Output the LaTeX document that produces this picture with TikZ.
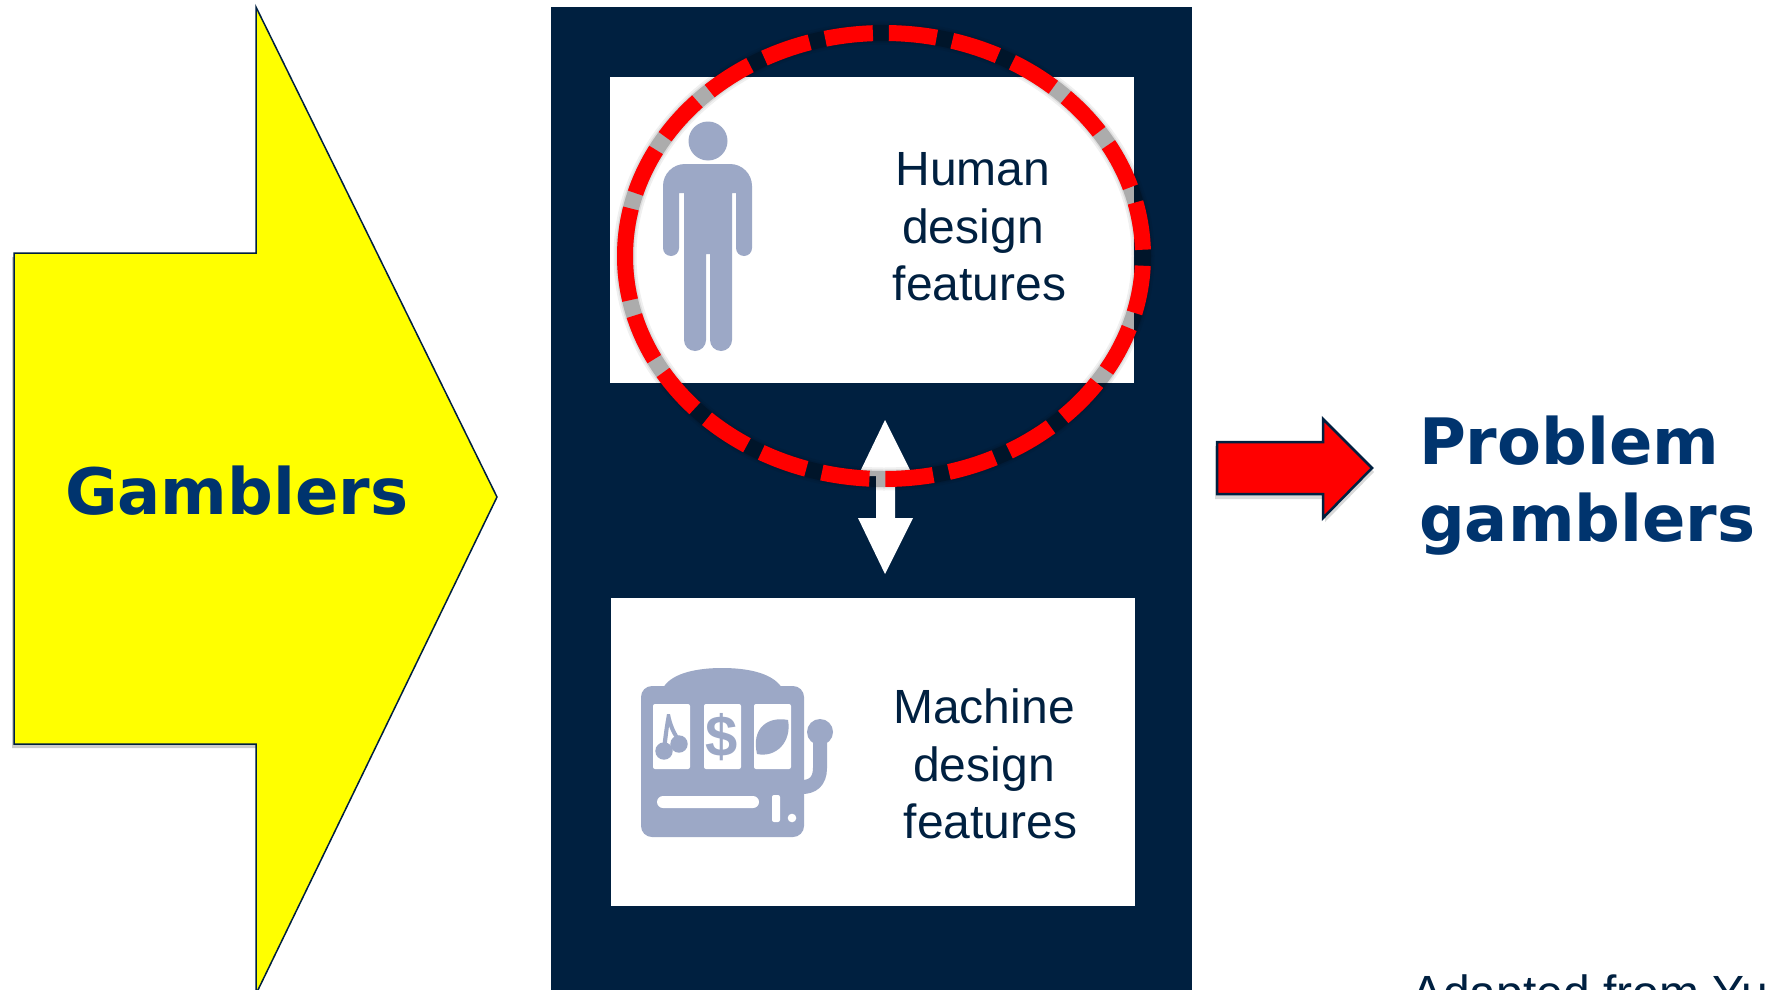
\documentclass[tikz,border=0pt]{standalone}
\usepackage{fontspec}
\setmainfont{Liberation Sans}
\newfontfamily\widefont{DejaVu Sans}
\definecolor{panel}{HTML}{002040}
\definecolor{titleblue}{HTML}{00346E}
\definecolor{icon}{HTML}{9CA8C6}
\definecolor{arrowyellow}{HTML}{FFFF00}
\definecolor{ringred}{HTML}{FF0000}
\usepackage{tikz}
\tikzstyle{base}=[x=1pt, y=-1pt, inner sep=0pt, outer sep=0pt]
\tikzstyle{whitebox}=[fill=white, draw=panel, line width=0.5pt]
\tikzstyle{body}=[panel, align=center, font=\fontsize{48}{57.5}\selectfont]
\tikzstyle{title}=[titleblue, align=left, font=\widefont\bfseries\fontsize{64}{77}\selectfont]
\newcommand*{\ringpath}{(625,256) arc (180:540:259 and 223)}

\begin{document}
\begin{tikzpicture}[base]
    \path [use as bounding box] (0,0) rectangle (1767,990);
    \fill [white] (0,0) rectangle (1767,990);
        % left arrow
        \fill [black, opacity=0.2] (12,257) -- (256,257) -- (256,744) -- (258,748) -- (12,748) -- cycle;
        \draw [panel, line width=1.5pt, fill=arrowyellow] (14,253) -- (256,253) -- (256,7) -- (497,497) -- (256,994) -- (256,744) -- (14,744) -- cycle;
        \node [title, anchor=base west] (gamblers) at (65,514) {Gamblers};
        % middle panel
        \fill [panel] (551,7) rectangle (1192,990);
        \draw [whitebox] (609,76) rectangle (1134,383);
        \draw [whitebox] (610,597) rectangle (1135,906);
        \node [body] (human) at (973,227) {Human\\design\\\hspace*{13pt}features};
        \node [body] (machine) at (984,764) {Machine\\design\\\hspace*{13pt}features};
        % person
        \fill [icon] (708,141) circle (19.5);
        \fill [icon] (663,220) [rounded corners=22] -- (663,164) -- (752,164) [rounded corners=8] -- (752,256) -- (736,256) [sharp corners] -- (736,193) -- (732,193) [rounded corners=11] -- (732,351) -- (710,351) [sharp corners] -- (710,254) -- (706,254) [rounded corners=11] -- (706,351) -- (684,351) [sharp corners] -- (684,193) -- (679,193) [rounded corners=8] -- (679,256) -- (663,256) [sharp corners] -- cycle;
        % slot machine
        \fill [icon] (663,688) .. controls (672,672) and (700,668) .. (722,668) .. controls (745,668) and (772,672) .. (782,688) -- cycle;
        \fill [icon, rounded corners=11] (641,686) rectangle (804,837);
        \fill [icon] (820,732) circle (13);
        \draw [icon, line width=14pt] (820,732) -- (820,768) .. controls (820,782) and (812,787) .. (802,787);
        \foreach \winx in {653,704,754}
            \fill [white, rounded corners=2] (\winx,704) rectangle +(37,65);
        \fill [white, rounded corners=6] (657,796) rectangle (759,808);
        \fill [white, rounded corners=2] (772,795) rectangle (780,822);
        \fill [white] (792,818) circle (4.3);
        % reel symbols
        \fill [icon] (664,751) circle (8.7);
        \fill [icon] (679,744) circle (8.7);
        \fill [icon] (667,714) -- (670,714) .. controls (672,725) and (676,733) .. (681,740) -- (678,742) .. controls (674,737) and (671,732) .. (669,726) -- (666,750) -- (662,750) .. controls (663,738) and (665,725) .. (667,714) -- cycle;
        \node [icon, font=\bfseries\fontsize{58}{58}\selectfont] (dollar) at (722,737) {\$};
        \fill [icon] (757,754) .. controls (751,728) and (768,716) .. (788,720) .. controls (792,742) and (776,758) .. (757,754) -- cycle;
        % double arrow
        \fill [white] (885,420) -- (913,476) -- (895,476) -- (895,518) -- (913,518) -- (885,574) -- (858,518) -- (876,518) -- (876,476) -- (858,476) -- cycle;
        % ring
        \draw [black, opacity=0.06, line width=23pt] \ringpath;
        \draw [black, opacity=0.08, line width=19pt] \ringpath;
        \draw [black, opacity=0.22, line width=16pt] \ringpath;
        \draw [ringred, line width=16pt, dash pattern=on 48pt off 16pt] \ringpath;
        % right arrow
        \fill [black, opacity=0.15] (1215,446) -- (1325,446) -- (1325,423) -- (1374,472) -- (1325,522) -- (1325,499) -- (1215,499) -- cycle;
        \draw [panel, line width=2.5pt, fill=ringred] (1217,442) -- (1323,442) -- (1323,419) -- (1372,468) -- (1323,518) -- (1323,494) -- (1217,494) -- cycle;
        \node [title, anchor=base west] (problem) at (1419,464) {Problem};
        \node [title, anchor=base west] (gamblers2) at (1419,541) {gamblers};
        \node [panel, anchor=base west, font=\fontsize{48}{57.5}\selectfont] (source) at (1411,1009) {Adapted from Yu};
    \end{tikzpicture}
\end{document}
